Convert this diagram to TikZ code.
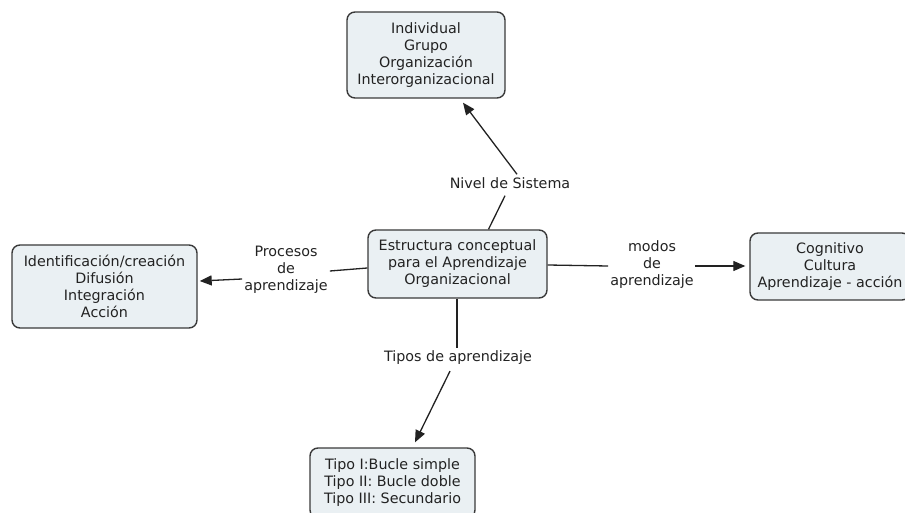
\documentclass[tikz,border=0pt]{standalone}
\usepackage{fontspec}
\setmainfont{DejaVu Sans}
\usetikzlibrary{arrows.meta}
\definecolor{boxfill}{HTML}{EAF0F3}
\definecolor{boxline}{HTML}{3A3A3A}
\definecolor{ink}{HTML}{222222}
\begin{document}
\begin{tikzpicture}[x=1pt,y=-1pt,
  font=\fontsize{14.3}{17}\selectfont,
  concept/.style={draw=boxline, fill=boxfill, line width=1.4pt, rounded corners=8pt,
    align=center, text=ink, inner sep=3pt},
  linklabel/.style={align=center, text=ink, inner sep=0pt},
  link/.style={draw=ink, line width=1.3pt},
  linkarrow/.style={link, -{Triangle[length=12pt,width=10pt]}}]
\useasboundingbox (0,0) rectangle (905,513);

% concepts
\node[concept, minimum width=179pt, minimum height=68pt] (core) at (457.5,264)
  {Estructura conceptual\\para el Aprendizaje\\Organizacional};
\node[concept, minimum width=158pt, minimum height=86pt] (levels) at (426,55)
  {Individual\\Grupo\\Organización\\Interorganizacional};
\node[concept, minimum width=185pt, minimum height=83pt] (procs) at (104.5,286.5)
  {Identificación/creación\\Difusión\\Integración\\Acción};
\node[concept, minimum width=160pt, minimum height=67pt] (modes) at (830,266.5)
  {Cognitivo\\Cultura\\Aprendizaje - acción};
\node[concept, minimum width=165pt, minimum height=70pt] (types) at (392.5,483)
  {Tipo I:Bucle simple\\Tipo II: Bucle doble\\Tipo III: Secundario};

% link labels
\node[linklabel] (lnivel) at (510,183) {Nivel de Sistema};
\node[linklabel] (lproc) at (286,270) {Procesos\\de\\aprendizaje};
\node[linklabel] (lmodos) at (652,265) {modos\\de\\aprendizaje};
\node[linklabel] (ltipos) at (458,358) {Tipos de aprendizaje};

% connectors (shifts are in page directions: positive yshift points up)
\draw[link] ([xshift=31pt]core.north) -- ([xshift=-5pt,yshift=-7pt]lnivel.south);
\draw[linkarrow] ([xshift=7pt,yshift=3pt]lnivel.north) -- ([xshift=37pt,yshift=-4pt]levels.south);

\draw[link] ([yshift=-4pt]core.west) -- ([xshift=2pt,yshift=-1pt]lproc.east);
\draw[linkarrow] ([xshift=-2pt,yshift=-9pt]lproc.west) -- ([xshift=2pt,yshift=5.5pt]procs.east);

\draw[link] ([yshift=-1pt]core.east) -- ([xshift=-2pt,yshift=-1pt]lmodos.west);
\draw[linkarrow] ([xshift=1pt,yshift=-1pt]lmodos.east) -- ([xshift=-4pt,yshift=0.5pt]modes.west);

\draw[link] ([xshift=-0.5pt]core.south) -- ([xshift=-1pt,yshift=3pt]ltipos.north);
\draw[linkarrow] ([xshift=-8pt,yshift=-6pt]ltipos.south) -- ([xshift=22.5pt,yshift=5pt]types.north);
\end{tikzpicture}
\end{document}
